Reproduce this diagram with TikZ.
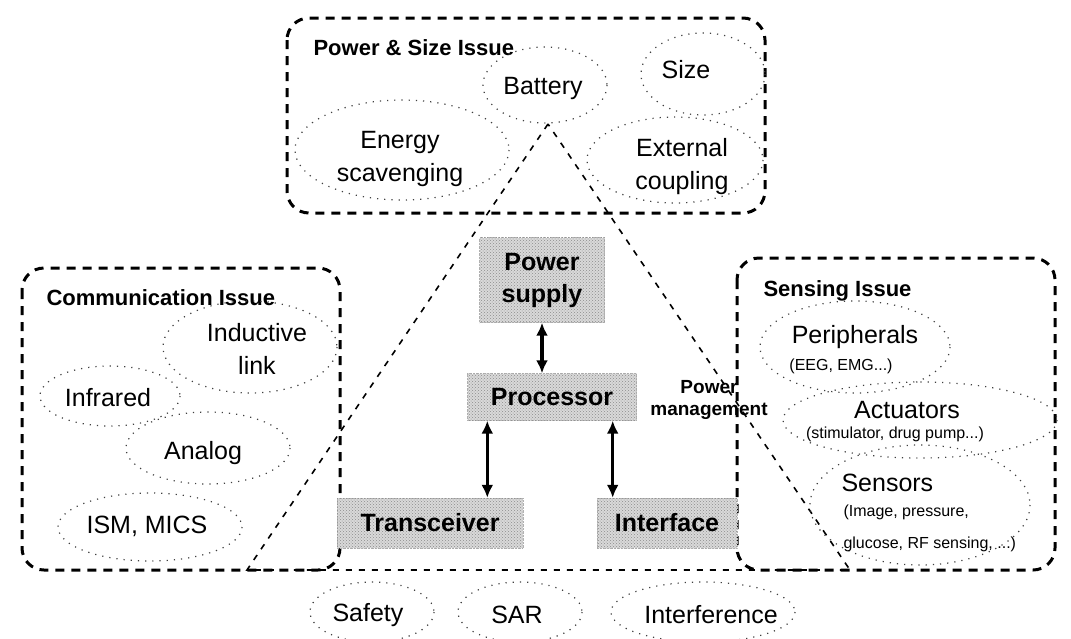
\documentclass[tikz,border=0pt]{standalone}
\usepackage{fontspec}
\setmainfont{Liberation Sans}
\usepackage{tikz}
\usetikzlibrary{patterns,arrows.meta}

\tikzset{
issue/.style={line width=3pt,dash pattern=on 9pt off 7pt,rounded corners=22pt},
blob/.style={line width=1.2pt,black!75,dash pattern=on 1.2pt off 6pt},
tri/.style={line width=1.6pt,dash pattern=on 6pt off 7pt},
ttl/.style={font=\fontsize{22}{24}\selectfont\bfseries,anchor=base west},
lbl/.style={font=\fontsize{25}{33}\selectfont,align=center},
sml/.style={font=\fontsize{16}{20}\selectfont,align=center},
unit/.style={font=\fontsize{25}{32}\selectfont\bfseries,align=center,fill=gray!30,draw=gray!60,densely dotted,
  postaction={pattern=crosshatch dots,pattern color=gray!90},inner sep=0pt},
dbl/.style={line width=3.5pt,{Latex[length=13pt,width=12pt]}-{Latex[length=13pt,width=12pt]}}
}

\begin{document}
\begin{tikzpicture}[x=1pt,y=-1pt]
\useasboundingbox (0,0) rectangle (1071,638);

%triangle
\draw[tri] (548,124) -- (247,570) -- (850,570) -- cycle;

%issue boxes
\draw[issue] (287,18) rectangle (765,213);
\draw[issue] (22,268) rectangle (340,570);
\draw[issue] (737,258) rectangle (1055,570);

\node[ttl] (pst) at (310,55) {Power \& Size Issue};
\node[ttl] (cmt) at (43,305) {Communication Issue};
\node[ttl] (snt) at (760,296) {Sensing Issue};

%power & size
\draw[blob] (545,85) ellipse [x radius=62,y radius=38];
\draw[blob] (703,74) ellipse [x radius=62,y radius=41];
\draw[blob] (675,160) ellipse [x radius=88,y radius=43];
\draw[blob] (402,150) ellipse [x radius=107,y radius=50];
\node[lbl] (bat) at (543,88) {Battery};
\node[lbl] (siz) at (686,70) {Size};
\node[lbl] (ext) at (682,167) {External\\coupling};
\node[lbl] (eng) at (400,159) {Energy\\scavenging};

%communication
\draw[blob] (250,347) ellipse [x radius=87,y radius=46];
\draw[blob] (110,396) ellipse [x radius=70,y radius=30];
\draw[blob] (208,448) ellipse [x radius=82,y radius=36];
\draw[blob] (150,527) ellipse [x radius=92,y radius=34];
\node[lbl] (ind) at (257,349) {Inductive\\link};
\node[lbl] (inf) at (108,398) {Infrared};
\node[lbl] (ana) at (203,453) {Analog};
\node[lbl] (ism) at (147,526) {ISM, MICS};

%sensing
\draw[blob] (855,347) ellipse [x radius=95,y radius=46];
\draw[blob] (920,420) ellipse [x radius=137,y radius=38];
\draw[blob] (920,505) ellipse [x radius=110,y radius=60];
\node[lbl] (per) at (855,337) {Peripherals};
\node[sml] (per2) at (841,366) {(EEG, EMG...)};
\node[lbl] (act) at (907,410) {Actuators};
\node[sml] (act2) at (895,434) {(stimulator, drug pump...)};
\node[lbl,anchor=west] (sen) at (838,483) {Sensors};
\node[sml,align=left,anchor=north west,font=\fontsize{16}{32}\selectfont] (sen2) at (840,501) {(Image, pressure,\\glucose, RF sensing, ...)};

%bottom
\draw[blob] (372,612) ellipse [x radius=62,y radius=30];
\draw[blob] (520,612) ellipse [x radius=62,y radius=30];
\draw[blob] (703,612) ellipse [x radius=92,y radius=30];
\node[lbl] (saf) at (368,615) {Safety};
\node[lbl] (sar) at (517,615) {SAR};
\node[lbl] (itf) at (711,615) {Interference};

%units
\node[unit,minimum width=125,minimum height=85] (ps) at (542,280) {Power\\supply};
\node[unit,minimum width=169,minimum height=47] (proc) at (552,397) {Processor};
\node[unit,minimum width=186,minimum height=50] (trx) at (430,523) {Transceiver};
\node[unit,minimum width=140,minimum height=50] (ifc) at (667,523) {Interface};
\node[font=\fontsize{19}{22}\selectfont\bfseries,align=center] (pwm) at (709,400) {Power\\management};

\draw[dbl] (ps.south) -- (ps.south |- proc.north);
\draw[dbl] ([xshift=20pt]proc.south west) -- ([xshift=20pt]proc.south west |- trx.north);
\draw[dbl] ([xshift=-24pt]proc.south east) -- ([xshift=-24pt]proc.south east |- ifc.north);

\end{tikzpicture}
\end{document}
